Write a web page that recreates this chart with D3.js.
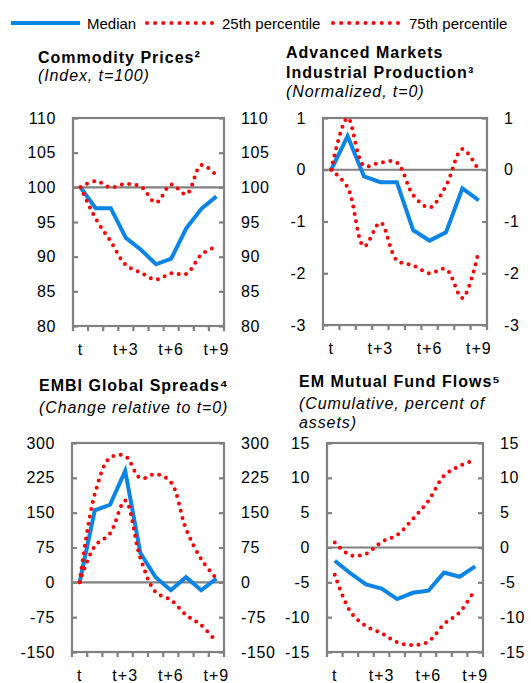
<!DOCTYPE html>
<html><head><meta charset="utf-8">
<script src="https://cdn.jsdelivr.net/npm/d3@7"></script>
<style>
body{margin:0;background:#fff}
svg{display:block}
text{font-family:"Liberation Sans",Arial,sans-serif;fill:#000}
</style>
</head><body>
<svg id="c" width="531" height="683"></svg>
<script>
const categories = ["t","t+1","t+2","t+3","t+4","t+5","t+6","t+7","t+8","t+9"];
const xTickLabels = ["t","t+3","t+6","t+9"];
const legendLabels = ["Median","25th percentile","75th percentile"];

const commodityMedian = [100,97.0,97.0,92.7,91.0,88.9,89.7,94.1,96.9,98.7];
const commodityP25 = [100,95.5,92.2,88.8,87.7,86.7,87.6,87.5,90.3,91.5];
const commodityP75 = [100,100.9,100.0,100.5,100.1,97.8,100.4,99.0,103.2,101.7];
const commodityTicks = [80,85,90,95,100,105,110];

const ipMedian = [0,0.65,-0.13,-0.24,-0.24,-1.17,-1.37,-1.21,-0.36,-0.59];
const ipP25 = [0,-0.34,-1.48,-1.02,-1.75,-1.85,-2.0,-1.92,-2.48,-1.56];
const ipP75 = [0,1.0,0.08,0.14,0.14,-0.49,-0.73,-0.31,0.40,-0.02];
const ipTicks = [-3,-2,-1,0,1];

const embiMedian = [0,155,167,240,63,11,-17,11,-17,8];
const embiP25 = [0,78,105,176,52,-21,-38,-70,-92,-128];
const embiP75 = [0,190,268,272,224,233,216,115,50,8];
const embiTicks = [-150,-75,0,75,150,225,300];

const flowsMedian = [-1.9,-3.7,-5.3,-5.9,-7.4,-6.5,-6.2,-3.6,-4.2,-2.7];
const flowsP25 = [-3.9,-9.2,-11.3,-12.3,-13.6,-14.0,-13.5,-11.0,-9.3,-6.0];
const flowsP75 = [0.7,-1.1,-0.9,0.8,1.8,4.1,6.7,10.3,11.7,12.6];
const flowsTicks = [-15,-10,-5,0,5,10,15];

const titles1 = [["Commodity Prices²"],["Advanced Markets","Industrial Production³"],["EMBI Global Spreads⁴"],["EM Mutual Fund Flows⁵"]];
const subtitles = [["(Index, t=100)"],["(Normalized, t=0)"],["(Change relative to t=0)"],["(Cumulative, percent of","assets)"]];

const BLUE = "#0a84e6", RED = "#ff0000", GRAY = "#808080";
const svg = d3.select("#c");

const panels = [
  {med:commodityMedian,p25:commodityP25,p75:commodityP75,ticks:commodityTicks,ref:100,
   L:73,R:224,T:118,B:326, tx:38, tBase:[63], sBase:[81]},
  {med:ipMedian,p25:ipP25,p75:ipP75,ticks:ipTicks,ref:0,
   L:323,R:487,T:118,B:325, tx:286, tBase:[58,78], sBase:[97]},
  {med:embiMedian,p25:embiP25,p75:embiP75,ticks:embiTicks,ref:0,
   L:72,R:224,T:443,B:652, tx:39, tBase:[391], sBase:[413]},
  {med:flowsMedian,p25:flowsP25,p75:flowsP75,ticks:flowsTicks,ref:0,
   L:327,R:483,T:443,B:652, tx:299, tBase:[387], sBase:[409,428]}
];

const fmt = d => String(d);

panels.forEach((p,i)=>{
  const g = svg.append("g");
  const x = d3.scaleBand().domain(categories).range([p.L,p.R]).padding(0);
  const y = d3.scaleLinear().domain(d3.extent(p.ticks)).range([p.B,p.T]);
  const cx = c => x(c) + x.bandwidth()/2;

  // titles
  titles1[i].forEach((t,k)=>g.append("text").attr("x",p.tx).attr("y",p.tBase[k])
     .attr("font-size",16).attr("font-weight","bold").attr("letter-spacing","1px").text(t));
  subtitles[i].forEach((t,k)=>g.append("text").attr("x",p.tx).attr("y",p.sBase[k])
     .attr("font-size",16).attr("font-style","italic").attr("letter-spacing","0.9px").text(t));

  // reference line
  g.append("line").attr("x1",p.L).attr("x2",p.R).attr("y1",y(p.ref)).attr("y2",y(p.ref))
    .attr("stroke",GRAY).attr("stroke-width",2.2);

  // y axes
  const la = g.append("g").attr("transform",`translate(${p.L},0)`)
    .call(d3.axisLeft(y).tickValues(p.ticks).tickFormat(fmt).tickSize(-5).tickSizeOuter(0).tickPadding(17));
  const ra = g.append("g").attr("transform",`translate(${p.R},0)`)
    .call(d3.axisRight(y).tickValues(p.ticks).tickFormat(fmt).tickSize(-5).tickSizeOuter(0).tickPadding(17));
  [la,ra].forEach(a=>{
    a.select(".domain").remove();
    a.selectAll(".tick line").attr("stroke",GRAY).attr("stroke-width",2.2);
    a.selectAll(".tick text").attr("font-size",16).attr("font-family",null).attr("letter-spacing","0.6px");
  });

  // x axis ticks at band boundaries
  const bounds = categories.map(c=>x(c)).concat([p.R]);
  g.selectAll(".xt").data(bounds).enter().append("line")
    .attr("x1",d=>d).attr("x2",d=>d).attr("y1",p.B).attr("y2",p.B+5)
    .attr("stroke",GRAY).attr("stroke-width",2.2);
  const xa = g.append("g").attr("transform",`translate(0,${p.B})`)
    .call(d3.axisBottom(x).tickValues(xTickLabels).tickSize(0).tickPadding(18));
  xa.select(".domain").remove();
  xa.selectAll(".tick text").attr("font-size",16).attr("font-family",null).attr("letter-spacing","1px");

  // frame
  g.append("rect").attr("x",p.L).attr("y",p.T).attr("width",p.R-p.L).attr("height",p.B-p.T)
    .attr("fill","none").attr("stroke",GRAY).attr("stroke-width",2.2);

  // series
  const straight = d3.line().x((d,j)=>cx(categories[j])).y(d=>y(d));
  const smooth = d3.line().x((d,j)=>cx(categories[j])).y(d=>y(d)).curve(d3.curveCatmullRom.alpha(0.5));
  g.append("path").attr("d",straight(p.med)).attr("fill","none").attr("stroke",BLUE)
    .attr("stroke-width",4).attr("stroke-linejoin","miter");
  [p.p25,p.p75].forEach(s=>{
    g.append("path").attr("d",smooth(s)).attr("fill","none").attr("stroke",RED)
      .attr("stroke-width",4).attr("stroke-linecap","round").attr("stroke-dasharray","0,7.4");
  });
});

// legend
const lg = svg.append("g");
lg.append("line").attr("x1",11).attr("x2",80).attr("y1",23).attr("y2",23)
  .attr("stroke",BLUE).attr("stroke-width",4);
lg.append("text").attr("x",87).attr("y",29).attr("font-size",15).text(legendLabels[0]);
[[147,212,222],[333,398,409]].forEach((a,k)=>{
  lg.append("line").attr("x1",a[0]).attr("x2",a[1]+0.5).attr("y1",23).attr("y2",23)
    .attr("stroke",RED).attr("stroke-width",4).attr("stroke-linecap","round").attr("stroke-dasharray","0,8.125");
  lg.append("text").attr("x",a[2]).attr("y",29).attr("font-size",15).text(legendLabels[k+1]);
});
</script>
</body></html>
